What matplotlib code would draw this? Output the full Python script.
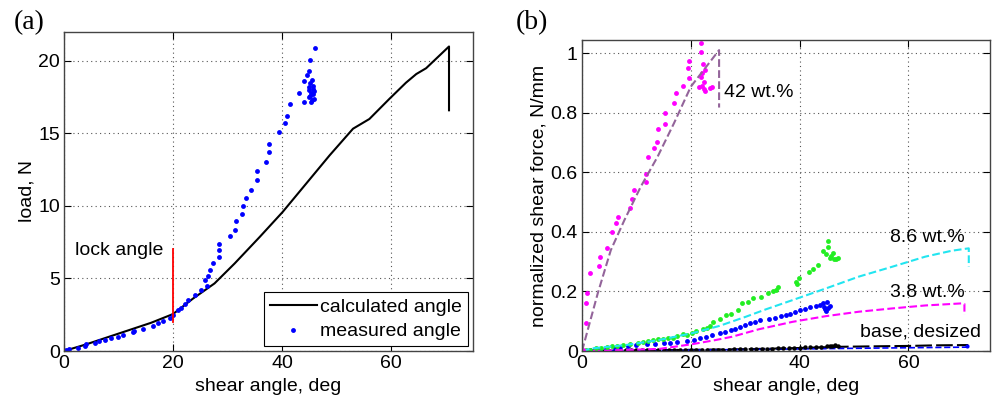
import matplotlib
matplotlib.use("Agg")
import matplotlib.pyplot as plt

# ---------------- Panel (a) data ----------------
calc_x = [0, 4, 8, 12, 16, 20, 23.6, 27.6, 31.3, 35.9, 40.1, 44.4, 48.7, 53, 56, 59.7,
          62.7, 64.6, 66.4, 70.6, 70.6]
calc_y = [0, 0.45, 0.95, 1.45, 1.95, 2.55, 3.6, 4.66, 6.04, 7.87, 9.59, 11.54, 13.49, 15.33,
          16.0, 17.4, 18.5, 19.1, 19.5, 21.0, 16.6]

meas_x = [0.4, 1.0, 2.6, 3.8, 4.0, 5.6, 6.5, 7.5, 8.7, 9.9, 10.8, 12.6, 12.9, 14.5, 16.3,
          17.2, 18.1, 19.4, 20.0, 20.9, 21.5, 22.1, 22.7, 24.0, 25.2, 25.8, 26.2, 26.4,
          26.8, 27.3, 28.4, 28.5, 28.4, 30.4, 31.3, 31.6, 32.6, 32.9, 33.4, 34.3, 35.4,
          35.4, 37.1, 37.6, 37.6, 39.4, 40.6, 40.9, 41.5, 43.1, 44.0, 44.1, 44.6, 45.0,
          45.1, 46.0, 45.0, 45.3, 45.6, 45.8, 44.9, 45.2, 45.5, 45.9, 45.1, 45.4, 45.7,
          45.0, 45.6, 45.3]
meas_y = [0.07, 0.12, 0.2, 0.35, 0.46, 0.57, 0.7, 0.76, 0.87, 0.99, 1.1, 1.28, 1.4, 1.51, 1.74,
          1.9, 2.06, 2.3, 2.48, 2.82, 2.94, 3.23, 3.5, 3.85, 4.2, 4.9, 4.47, 5.2,
          5.6, 6.1, 6.45, 6.95, 7.4, 7.9, 8.37, 8.94, 9.47, 10.0, 10.55, 11.1, 11.77,
          12.4, 13.05, 13.7, 14.3, 15.1, 15.7, 16.2, 17.0, 17.8, 18.65, 17.2, 19.05, 19.3,
          20.1, 20.9, 17.5, 17.8, 18.1, 17.9, 18.2, 18.5, 18.7, 17.4, 17.6, 17.3, 18.3,
          18.0, 17.7, 17.2]

lock_x = [20, 20]
lock_y = [2.0, 7.0]

# ---------------- Panel (b) data ----------------
m42_x = [0.2, 0.67, 0.67, 0.97, 1.47, 3.1, 3.4, 4.6, 5.6, 6.2, 6.6, 8.9, 9.2, 9.5, 11.7, 11.7,
         12.1, 13.3, 13.7, 13.9, 15.3, 15.3, 16.9, 17.2, 18.6, 19.6, 19.4, 19.7, 21.8, 21.8,
         22.3, 22.0, 21.8, 22.4, 21.5, 22.4, 22.7, 23.5, 23.9, 22.0, 22.6]
m42_y = [0.005, 0.093, 0.16, 0.194, 0.261, 0.287, 0.317, 0.345, 0.40, 0.429, 0.449, 0.479, 0.51,
         0.541, 0.569, 0.595, 0.653, 0.681, 0.703, 0.745, 0.762, 0.80, 0.834, 0.866, 0.89, 0.916,
         0.952, 0.975, 1.003, 1.034, 0.963, 0.933, 0.921, 0.905, 0.886, 0.879, 0.874, 0.882,
         0.886, 0.89, 0.945]
c42_x = [0, 2.9, 5.3, 7.8, 10.8, 13.9, 16.9, 20.0, 25.2, 25.2]
c42_y = [0, 0.194, 0.339, 0.44, 0.552, 0.653, 0.765, 0.888, 1.011, 0.818]

m86_x = [0.4, 0.7, 1.5, 2.6, 3.5, 4.6, 5.5, 6.4, 7.5, 8.8, 10.3, 11.2, 12.2, 13.0, 14.0, 14.9,
         15.8, 16.7, 17.5, 18.6, 19.3, 20.2, 21.0, 22.2, 23.0, 23.5, 24.1, 25.3, 26.5, 27.4,
         28.6, 29.5, 30.5, 31.4, 32.9, 34.1, 35.2, 35.7, 36.0, 39.3, 39.9, 39.6, 41.8, 42.5,
         43.3, 44.3, 44.9, 45.2, 45.5, 45.3, 46.1, 46.7, 47.0, 45.8, 46.4]
m86_y = [0.001, 0.003, 0.005, 0.009, 0.011, 0.015, 0.016, 0.017, 0.02, 0.024, 0.026, 0.03, 0.033,
         0.037, 0.039, 0.042, 0.044, 0.045, 0.05, 0.057, 0.055, 0.06, 0.068, 0.074, 0.078, 0.083,
         0.097, 0.106, 0.12, 0.125, 0.137, 0.16, 0.165, 0.177, 0.182, 0.194, 0.2, 0.205, 0.216,
         0.233, 0.244, 0.225, 0.267, 0.275, 0.29, 0.335, 0.325, 0.369, 0.313, 0.35, 0.33, 0.308,
         0.313, 0.32, 0.31]
c86_x = [0, 1.95, 8.06, 14.2, 20.3, 25.2, 30.1, 33.8, 38.7, 44.8, 50.9, 57.0, 63.1, 68.0, 71.1, 71.1]
c86_y = [0, 0.009, 0.02, 0.037, 0.06, 0.084, 0.115, 0.14, 0.171, 0.21, 0.25, 0.283, 0.317, 0.337,
         0.345, 0.283]

m38_x = [0.5, 1.5, 3, 4.5, 6, 7, 8.5, 10, 11.9, 13.5, 15, 16.2, 17.5, 19.3, 20.5, 21.7, 22.8,
         23.9, 25.4, 26.3, 27.3, 28.2, 29.1, 30.0, 30.9, 31.8, 32.8, 34.3, 35.5, 36.5, 37.5,
         38.3, 39.2, 40.1, 41.0, 42, 43, 43.8, 44.3, 45, 44.6, 45.2, 44.9, 45.5, 44.4]
m38_y = [0.001, 0.003, 0.005, 0.007, 0.01, 0.013, 0.016, 0.019, 0.024, 0.025, 0.026, 0.026, 0.03,
         0.035, 0.038, 0.043, 0.048, 0.054, 0.06, 0.065, 0.071, 0.075, 0.08, 0.087, 0.094, 0.098,
         0.103, 0.107, 0.112, 0.116, 0.121, 0.125, 0.13, 0.138, 0.142, 0.147, 0.151, 0.155, 0.16,
         0.166, 0.14, 0.145, 0.135, 0.15, 0.148]
c38_x = [0, 7, 14.2, 20.3, 24.6, 27.6, 32.5, 38.7, 44.8, 50.9, 57.0, 63.1, 69.8, 70.3, 70.3]
c38_y = [0, 0.003, 0.007, 0.023, 0.037, 0.048, 0.073, 0.098, 0.117, 0.132, 0.143, 0.153, 0.16,
         0.158, 0.121]

mb_x = [1, 2, 3, 4, 5, 6, 7, 8, 9, 10, 11, 12, 13, 14, 15, 16, 17, 18, 19, 20, 21, 22, 23, 24,
        25, 26, 27, 28, 29, 30, 31, 32, 33, 34, 35, 36, 37, 38, 39, 40, 41, 42, 43, 44, 45,
        45.5, 46, 46.5, 47]
mb_y = [0.0, 0.0, 0.001, 0.001, 0.001, 0.001, 0.002, 0.002, 0.002, 0.002, 0.002, 0.003, 0.003,
        0.003, 0.003, 0.003, 0.003, 0.004, 0.004, 0.004, 0.004, 0.004, 0.005, 0.005, 0.005, 0.005,
        0.005, 0.006, 0.006, 0.006, 0.006, 0.007, 0.007, 0.008, 0.008, 0.009, 0.009, 0.010, 0.010,
        0.011, 0.012, 0.012, 0.013, 0.014, 0.016, 0.018, 0.017, 0.019, 0.016]
cb_x = [0, 10, 20, 30, 40, 47, 55, 60, 65, 71]
cb_y = [0, 0.002, 0.004, 0.006, 0.010, 0.014, 0.016, 0.017, 0.019, 0.020]
cbb_x = [0, 20, 40, 55, 71]
cbb_y = [0, 0.003, 0.007, 0.010, 0.013]
end_x = [70.8]
end_y = [0.017]

xticks = [0, 20, 40, 60]
yticks_a = [0, 5, 10, 15, 20]
yticks_b = [0, 0.2, 0.4, 0.6, 0.8, 1.0]
yticklabels_b = ['0', '0.2', '0.4', '0.6', '0.8', '1']

plt.rcParams['font.family'] = ['Liberation Sans', 'DejaVu Sans']
fs = 14

fig = plt.figure(figsize=(10, 4.08), dpi=100)
axa = fig.add_axes([0.064, 0.1397, 0.409, 0.7819])
axb = fig.add_axes([0.582, 0.1397, 0.408, 0.7623])

def style(ax):
    ax.tick_params(direction='in', top=True, right=True, length=5, width=0.8,
                   labelsize=fs, colors='black', pad=3)
    for s in ax.spines.values():
        s.set_color('#444444')
        s.set_linewidth(1.0)
    ax.grid(True, linestyle=(0, (1, 3)), color='#555555', linewidth=0.8)
    ax.set_axisbelow(True)

# Panel (a)
axa.plot(calc_x, calc_y, color='black', lw=1.5, label='calculated angle')
axa.plot(meas_x, meas_y, linestyle='none', marker='o', ms=3.5, mfc='#0000ff', mec='none',
         label='measured angle')
axa.plot(lock_x, lock_y, color='red', lw=1.3)
axa.text(2.0, 6.94, 'lock angle', fontsize=fs, va='center', ha='left')
axa.set_xlim(0, 75)
axa.set_ylim(0, 22)
axa.set_xticks(xticks)
axa.set_yticks(yticks_a)
axa.set_xlabel('shear angle, deg', fontsize=fs, labelpad=4)
axa.set_ylabel('load, N', fontsize=fs, labelpad=2)
style(axa)
leg = axa.legend(loc='lower right', fontsize=fs, frameon=True, fancybox=False,
                 edgecolor='black', framealpha=1, borderpad=0.3, handlelength=2.4,
                 handletextpad=0.2, labelspacing=0.35, borderaxespad=0.25)
leg.get_frame().set_linewidth(0.8)

# Panel (b)
axb.plot(cb_x, cb_y, color='black', lw=1.5, ls=(0, (8, 2)))
axb.plot(cbb_x, cbb_y, color='#0000ff', lw=1.2, ls='--')
axb.plot(end_x, end_y, linestyle='none', marker='o', ms=3, mfc='#0000ff', mec='none')
axb.plot(mb_x, mb_y, linestyle='none', marker='o', ms=3.2, mfc='black', mec='none')
axb.plot(m38_x, m38_y, linestyle='none', marker='o', ms=3.5, mfc='#0000ff', mec='none')
axb.plot(c38_x, c38_y, color='#ff00ff', lw=1.5, ls='--')
axb.plot(m86_x, m86_y, linestyle='none', marker='o', ms=3.5, mfc='#22ee22', mec='none')
axb.plot(c86_x, c86_y, color='#22e5f0', lw=1.5, ls='--')
axb.plot(m42_x, m42_y, linestyle='none', marker='o', ms=3.5, mfc='#ff00ff', mec='none')
axb.plot(c42_x, c42_y, color='#93649a', lw=1.5, ls='--')
axb.text(26.1, 0.87, '42 wt.%', fontsize=fs, va='center', ha='left')
axb.text(70.4, 0.38, '8.6 wt.%', fontsize=fs, va='center', ha='right')
axb.text(70.4, 0.198, '3.8 wt.%', fontsize=fs, va='center', ha='right')
axb.text(73.4, 0.064, 'base, desized', fontsize=fs, va='center', ha='right')
axb.set_xlim(0, 75)
axb.set_ylim(0, 1.045)
axb.set_xticks(xticks)
axb.set_yticks(yticks_b)
axb.set_yticklabels(yticklabels_b)
axb.set_xlabel('shear angle, deg', fontsize=fs, labelpad=4)
axb.set_ylabel('normalized shear force, N/mm', fontsize=fs, labelpad=2)
style(axb)

fig.text(0.014, 0.945, '(a)', fontsize=20, family=['Liberation Serif', 'DejaVu Serif'],
         va='center', ha='left')
fig.text(0.516, 0.945, '(b)', fontsize=20, family=['Liberation Serif', 'DejaVu Serif'],
         va='center', ha='left')

fig.savefig('out.png', dpi=100)
